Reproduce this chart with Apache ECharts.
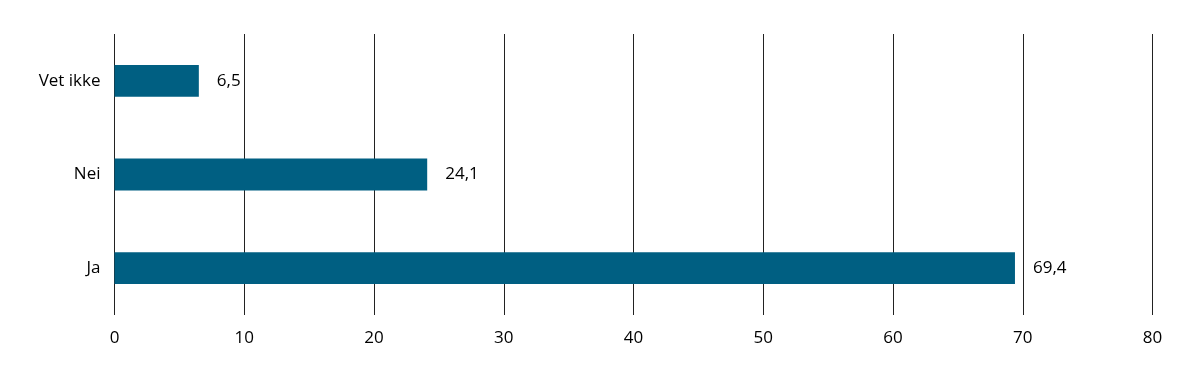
<!DOCTYPE html>
<html>
<head>
<meta charset="utf-8">
<script src="https://cdn.jsdelivr.net/npm/echarts@6/dist/echarts.min.js"></script>
<style>
html,body{margin:0;padding:0;background:#fff;}
#c{width:1199px;height:388px;}
</style>
</head>
<body>
<div id="c"></div>
<script>
const categories = ["Ja", "Nei", "Vet ikke"];
const values = [69.4, 24.1, 6.5];
const xTicks = [0, 10, 20, 30, 40, 50, 60, 70, 80];

const chart = echarts.init(document.getElementById('c'), null, {renderer: 'canvas'});
const font = '"Open Sans", "Noto Sans", sans-serif';
chart.setOption({
  animation: false,
  grid: {left: 114.5, right: 46.5, top: 34, bottom: 73, containLabel: false},
  xAxis: {
    type: 'value',
    min: xTicks[0],
    max: xTicks[xTicks.length - 1],
    interval: 10,
    axisLine: {show: false},
    axisTick: {show: false},
    axisLabel: {color: '#000', fontSize: 17, fontFamily: font, margin: 15},
    splitLine: {show: true, lineStyle: {color: '#222', width: 1}}
  },
  yAxis: {
    type: 'category',
    data: categories,
    axisLine: {show: false},
    axisTick: {show: false},
    axisLabel: {color: '#000', fontSize: 17, fontFamily: font, margin: 14}
  },
  series: [{
    type: 'bar',
    data: values,
    barWidth: '34%',
    itemStyle: {color: '#005F82'},
    label: {
      show: true,
      position: 'right',
      distance: 18,
      color: '#000',
      fontSize: 17,
      fontFamily: font,
      formatter: p => String(p.value).replace('.', ',')
    }
  }]
});
</script>
</body>
</html>
